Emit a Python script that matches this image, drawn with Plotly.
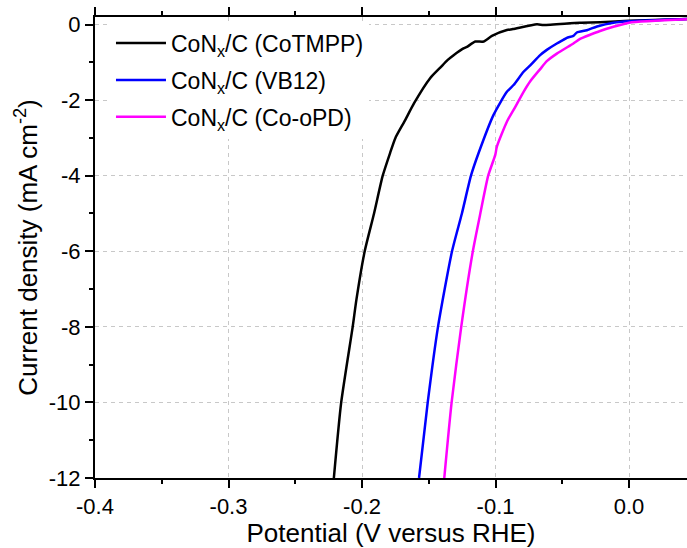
import plotly.graph_objects as go

# CoNx/C (CoTMPP)
v_cotmpp = [-0.2211, -0.2156, -0.2070, -0.2042, -0.1980, -0.1910, -0.1845, -0.1790, -0.1750,
            -0.1680, -0.1610, -0.1490, -0.1414, -0.1360, -0.1314, -0.1240, -0.1214, -0.1152,
            -0.1090, -0.1027, -0.0915, -0.0870, -0.0690, -0.0640, -0.0370, -0.0217, 0.0000, 0.0434]
j_cotmpp = [-12.0, -10.0, -8.0, -7.28, -6.0, -5.0, -4.0, -3.4, -3.0,
            -2.55, -2.08, -1.42, -1.14, -0.94, -0.81, -0.63, -0.59, -0.45,
            -0.45, -0.30, -0.145, -0.12, 0.005, -0.01, 0.05, 0.06, 0.10, 0.15]

# CoNx/C (VB12)
v_vb12 = [-0.1573, -0.1508, -0.1431, -0.1326, -0.1252, -0.1184, -0.1127, -0.1015,
          -0.0915, -0.0865, -0.0790, -0.0740, -0.0666, -0.0616, -0.0541, -0.0490, -0.0466,
          -0.0417, -0.0391, -0.0316, -0.0240, -0.0117, 0.0000, 0.0434]
j_vb12 = [-12.0, -10.0, -8.0, -6.0, -5.0, -4.0, -3.40, -2.39,
          -1.78, -1.60, -1.25, -1.08, -0.81, -0.67, -0.50, -0.40, -0.35,
          -0.30, -0.21, -0.15, -0.05, 0.05, 0.09, 0.15]

# CoNx/C (Co-oPD)
v_coopd = [-0.1384, -0.1329, -0.1257, -0.1170, -0.1114, -0.1055, -0.1002, -0.0990,
           -0.0915, -0.0865, -0.0790, -0.0740, -0.0666, -0.0616, -0.0541, -0.0417, -0.0367,
           -0.0292, -0.0217, -0.0117, 0.0000, 0.0434]
j_coopd = [-12.0, -10.0, -8.0, -6.0, -5.0, -4.0, -3.45, -3.23,
           -2.57, -2.26, -1.78, -1.50, -1.18, -0.97, -0.77, -0.50, -0.38,
           -0.27, -0.17, -0.06, 0.05, 0.14]

names = ["CoN<sub>x</sub>/C (CoTMPP)", "CoN<sub>x</sub>/C (VB12)", "CoN<sub>x</sub>/C (Co-oPD)"]
colors = ["#000000", "#0000FF", "#FF00FF"]

x_ticks = [-0.4, -0.3, -0.2, -0.1, 0.0]
x_ticklabels = ["-0.4", "-0.3", "-0.2", "-0.1", "0.0"]
y_ticks = [0, -2, -4, -6, -8, -10, -12]
y_ticklabels = ["0", "-2", "-4", "-6", "-8", "-10", "-12"]

FONT = "Liberation Sans, Arial, sans-serif"

fig = go.Figure()
for i, (v, j, n, c) in enumerate(zip([v_cotmpp, v_vb12, v_coopd], [j_cotmpp, j_vb12, j_coopd], names, colors)):
    fig.add_trace(go.Scatter(x=v, y=j, mode="lines", name=n, legendgroup=f"g{i}",
                             line=dict(color=c, width=2.5, shape="spline", smoothing=0.6)))

fig.update_layout(
    width=687, height=548,
    margin=dict(l=95, r=0, t=17, b=70),
    paper_bgcolor="white", plot_bgcolor="white",
    font=dict(family=FONT, color="black"),
    showlegend=True,
    legend=dict(x=0.027, y=0.99, xanchor="left", yanchor="top",
                bgcolor="white", borderwidth=0,
                font=dict(size=23, family=FONT, color="black"),
                tracegroupgap=4, itemwidth=50),
    xaxis=dict(range=[-0.4, 0.0434], tickvals=x_ticks, ticktext=x_ticklabels,
               showline=True, linecolor="black", linewidth=2, mirror="ticks",
               ticks="outside", ticklen=8, tickwidth=1.5, tickcolor="black",
               tickfont=dict(size=22, family=FONT),
               showgrid=True, gridcolor="#c8c8c8", griddash="4px,4px", gridwidth=1,
               zeroline=False,
               minor=dict(dtick=0.05, tick0=0, ticks="outside", ticklen=4, tickwidth=1.5,
                          tickcolor="black", showgrid=False),
               title=dict(text="Potential (V versus RHE)", font=dict(size=26, family=FONT),
                          standoff=6)),
    yaxis=dict(range=[-12, 0.2], tickvals=y_ticks, ticktext=y_ticklabels,
               showline=True, linecolor="black", linewidth=2, mirror=False,
               ticks="outside", ticklen=8, tickwidth=1.5, tickcolor="black",
               tickfont=dict(size=22, family=FONT),
               showgrid=True, gridcolor="#c8c8c8", griddash="4px,4px", gridwidth=1,
               zeroline=False,
               minor=dict(dtick=1, tick0=0, ticks="outside", ticklen=4, tickwidth=1.5,
                          tickcolor="black", showgrid=False),
               title=dict(text="Current density (mA cm<sup>-2</sup>)",
                          font=dict(size=26, family=FONT), standoff=4)),
)

fig.write_html("out.html")
